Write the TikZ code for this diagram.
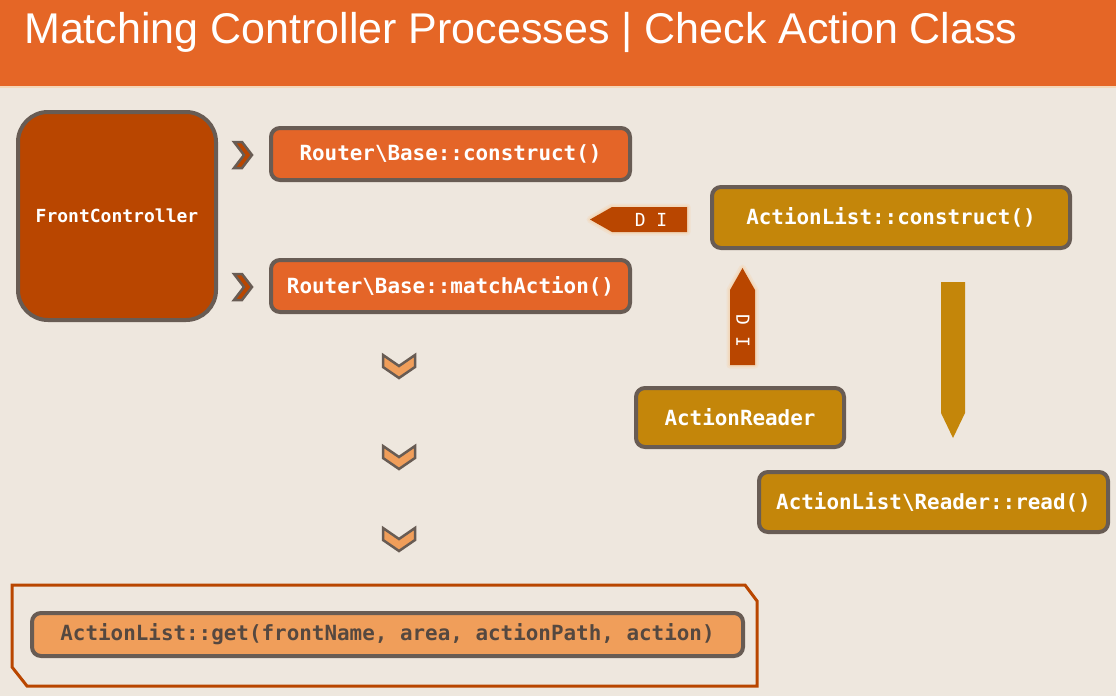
\documentclass[tikz,border=0pt]{standalone}
\usepackage{fontspec}
\setmainfont{Liberation Sans}
\newfontfamily\codefont{DejaVu Sans Mono}
\definecolor{bgc}{RGB}{238,231,222}
\definecolor{headc}{RGB}{229,102,38}
\definecolor{darkor}{RGB}{185,70,0}
\definecolor{midor}{RGB}{228,101,40}
\definecolor{goldc}{RGB}{196,134,10}
\definecolor{lightor}{RGB}{240,158,90}
\definecolor{bordg}{RGB}{104,92,84}
\definecolor{darktxt}{RGB}{85,72,64}
\definecolor{glowc}{RGB}{246,205,160}
\tikzset{
  codebox/.style={draw=bordg, line width=4pt, rounded corners=9pt, inner sep=0pt,
    text=white, font=\codefont\bfseries\fontsize{20.9}{24}\selectfont},
  chevr/.style={fill=darkor, draw=bordg, line width=2.5pt, line join=miter},
  chevd/.style={fill=lightor, draw=bordg, line width=2.5pt, line join=miter},
  glowa/.style={draw=glowc, line width=7pt, line join=round, opacity=.25},
  glowb/.style={draw=glowc, line width=3.5pt, line join=round, opacity=.4},
  ditext/.style={text=white, inner sep=0pt, font=\codefont\fontsize{18}{20}\selectfont}
}
\begin{document}
\begin{tikzpicture}[x=1pt,y=-1pt]
\useasboundingbox (0,0) rectangle (1116,696);
\fill[bgc] (0,0) rectangle (1116,696);
\fill[headc] (0,0) rectangle (1116,86);
\fill[glowc!60!bgc] (0,86) rectangle (1116,88);
\node[anchor=base west, text=white, inner sep=0pt, font=\fontsize{43}{50}\selectfont] (title) at (24,43) {Matching Controller Processes | Check Action Class};

% boxes
\node[codebox, fill=darkor, rounded corners=30pt, minimum width=198pt, minimum height=208pt, font=\codefont\bfseries\fontsize{18}{20}\selectfont] (fc) at (117,216) {FrontController};
\node[codebox, fill=midor, minimum width=359pt, minimum height=52pt] (rc) at (450.5,154) {Router\textbackslash Base::construct()};
\node[codebox, fill=midor, minimum width=359pt, minimum height=52pt] (rm) at (450.5,286) {Router\textbackslash Base::matchAction()};
\node[codebox, fill=goldc, minimum width=358pt, minimum height=61pt] (alc) at (891,217.5) {ActionList::construct()};
\node[codebox, fill=goldc, minimum width=208pt, minimum height=59pt] (ar) at (740,417.5) {ActionReader};
\node[codebox, fill=goldc, minimum width=349pt, minimum height=60pt] (alr) at (933.5,502) {ActionList\textbackslash Reader::read()};
\node[codebox, fill=lightor, text=darktxt, minimum width=711pt, minimum height=43pt] (alg) at (387.5,634.5) {ActionList::get(frontName, area, actionPath, action)};

% bottom container
\draw[darkor, line width=3pt] (12,585) -- (745,585) -- (757,601) -- (757,686) -- (27,686) -- (12,667) -- cycle;

% right chevrons
\foreach \yy in {0,132}{
  \draw[chevr] (234,142+\yy) -- (242,142+\yy) -- (252,155+\yy) -- (242,168+\yy) -- (234,168+\yy) -- (244,155+\yy) -- cycle;
}
% down chevrons
\foreach \yy in {0,91,173}{
  \draw[chevd] (383,355+\yy) -- (399,366+\yy) -- (415,355+\yy) -- (415,367+\yy) -- (399,378+\yy) -- (383,367+\yy) -- cycle;
}

% DI left arrow
\draw[glowa] (590,219.5) -- (612,207) -- (687,207) -- (687,232) -- (612,232) -- cycle;
\draw[glowb] (590,219.5) -- (612,207) -- (687,207) -- (687,232) -- (612,232) -- cycle;
\fill[darkor] (590,219.5) -- (612,207) -- (687,207) -- (687,232) -- (612,232) -- cycle;
\node[ditext] (dil) at (651,220) {D I};

% DI up arrow
\draw[glowa] (742.5,268) -- (755,290) -- (755,365) -- (730,365) -- (730,290) -- cycle;
\draw[glowb] (742.5,268) -- (755,290) -- (755,365) -- (730,365) -- (730,290) -- cycle;
\fill[darkor] (742.5,268) -- (755,290) -- (755,365) -- (730,365) -- (730,290) -- cycle;
\node[ditext, rotate=-90] (diu) at (743,331) {D I};

% gold down arrow
\fill[goldc] (941,282) -- (965,282) -- (965,413) -- (953,438) -- (941,413) -- cycle;
\end{tikzpicture}
\end{document}
